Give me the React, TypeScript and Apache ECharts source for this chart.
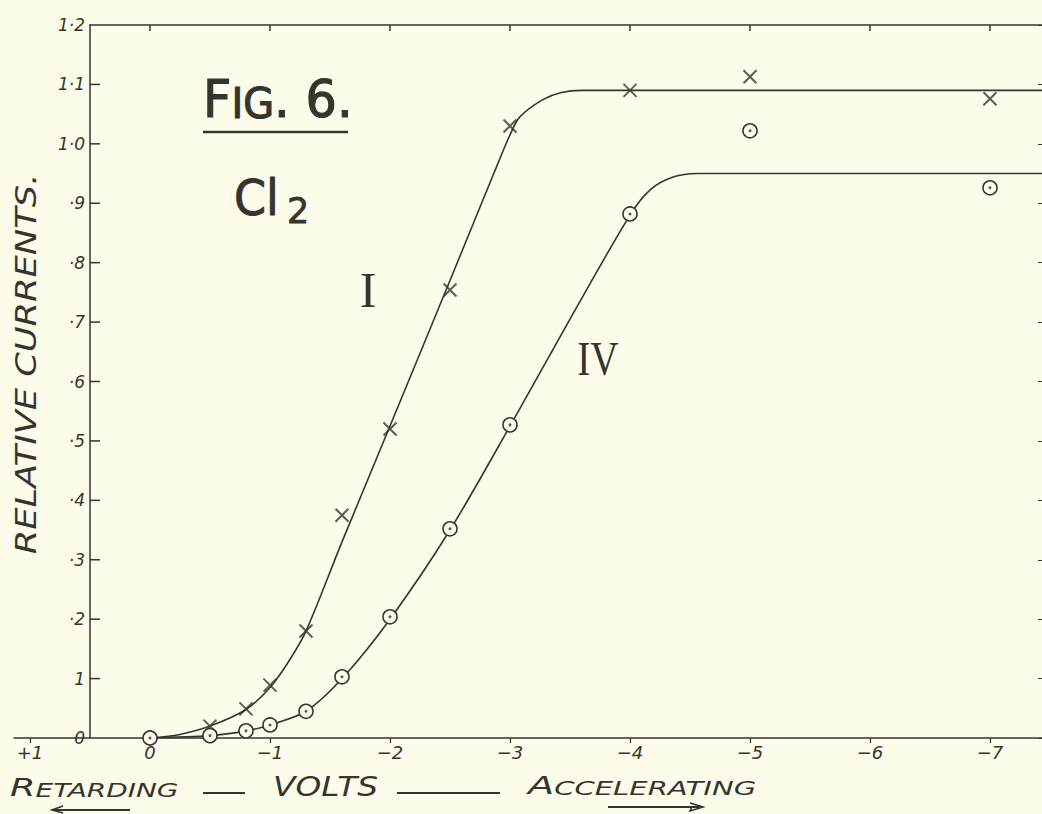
import React, { useEffect, useRef } from "react";
import * as echarts from "echarts";

// ---- data ----
const crossVolts = [-0.5, -0.8, -1.0, -1.3, -1.6, -2.0, -2.5, -3.0, -4.0, -5.0, -7.0];
const crossValues = [0.02, 0.049, 0.089, 0.18, 0.375, 0.52, 0.754, 1.03, 1.09, 1.113, 1.076];

const circleVolts = [0, -0.5, -0.8, -1.0, -1.3, -1.6, -2.0, -2.5, -3.0, -4.0, -5.0, -7.0];
const circleValues = [0, 0.004, 0.012, 0.022, 0.045, 0.103, 0.204, 0.352, 0.527, 0.882, 1.022, 0.926];

const curveIVolts = [0, -0.25, -0.5, -0.8, -1.0, -1.15, -1.3, -1.6, -2.0, -2.5, -2.875, -3.0, -3.08, -3.27, -3.42, -3.6, -7.5];
const curveIValues = [0, 0.006, 0.02, 0.048, 0.085, 0.127, 0.18, 0.33, 0.525, 0.77, 0.955, 1.015, 1.045, 1.074, 1.086, 1.09, 1.09];

const curveIVVolts = [0, -0.5, -0.8, -1.0, -1.3, -1.6, -2.0, -2.5, -3.0, -3.5, -4.0, -4.17, -4.36, -4.56, -7.5];
const curveIVValues = [0, 0.004, 0.012, 0.022, 0.045, 0.1, 0.2, 0.35, 0.525, 0.705, 0.88, 0.923, 0.944, 0.95, 0.95];

const xTickValues = [1, 0, -1, -2, -3, -4, -5, -6, -7];
const xTickLabels = ["+1", "0", "−1", "−2", "−3", "−4", "−5", "−6", "−7"];
const xTopTickValues = [0, -1, -2, -3, -4, -5, -6, -7];
const yTickValues = [0.1, 0.2, 0.3, 0.4, 0.5, 0.6, 0.7, 0.8, 0.9, 1.0, 1.1];
const yTickLabels = ["0", "1", "·2", "·3", "·4", "·5", "·6", "·7", "·8", "·9", "1·0", "1·1", "1·2"];

const INK = "#35352f";
const PAPER = "#fdfcea";
const SANS = "DejaVu Sans";
const SERIF = "Liberation Serif";

const X_LEFT = 0.5; // volts at the left frame line
const X_RIGHT = -7.4333; // volts at the right edge
const Y_TOP = 1.2;

export default function App() {
  const ref = useRef<HTMLDivElement>(null);

  useEffect(() => {
    if (!ref.current) return;
    const chart = echarts.init(ref.current, undefined, { renderer: "svg" });

    const xLabelOf = (v: number) => {
      const i = xTickValues.findIndex((t) => Math.abs(t - v) < 1e-6);
      return i >= 0 ? xTickLabels[i] : "";
    };

    const baseGraphic: any[] = [
      {
        type: "text",
        x: 203,
        y: 125,
        scaleX: 0.95,
        style: {
          text: "{a|F}{b|IG}{a|. 6.}",
          align: "left",
          verticalAlign: "bottom",
          fill: INK,
          rich: {
            a: { fontSize: 52, fontFamily: SANS, fill: INK, stroke: INK, lineWidth: 1.2, verticalAlign: "bottom" },
            b: { fontSize: 42, fontFamily: SANS, fill: INK, stroke: INK, lineWidth: 1.2, verticalAlign: "bottom" },
          },
        },
      },
      { type: "line", shape: { x1: 203, y1: 132, x2: 348, y2: 132 }, style: { stroke: INK, lineWidth: 2.5 } },
      {
        type: "text",
        x: 234,
        y: 197,
        scaleX: 0.92,
        style: { text: "Cl", fontSize: 50, fontFamily: SANS, fill: INK, stroke: INK, lineWidth: 1, align: "left", verticalAlign: "middle" },
      },
      {
        type: "text",
        x: 287,
        y: 211,
        style: { text: "2", fontSize: 35, fontFamily: SANS, fill: INK, stroke: INK, lineWidth: 0.8, align: "left", verticalAlign: "middle" },
      },
      {
        type: "text",
        x: 368,
        y: 290,
        style: { text: "I", fontSize: 50, fontFamily: SERIF, fill: INK, align: "center", verticalAlign: "middle" },
      },
      {
        type: "text",
        x: 598,
        y: 358,
        scaleX: 0.8,
        style: { text: "IV", fontSize: 49, fontFamily: SERIF, fill: INK, align: "center", verticalAlign: "middle" },
      },
      {
        type: "text",
        x: 26,
        y: 364,
        rotation: Math.PI / 2,
        scaleX: 1.26,
        style: {
          text: "RELATIVE CURRENTS.",
          fontSize: 28,
          fontStyle: "italic",
          fontFamily: SANS,
          fill: INK,
          align: "center",
          verticalAlign: "middle",
        },
      },
      {
        type: "text",
        x: 10,
        y: 800,
        scaleX: 1.47,
        style: {
          text: "{a|R}{b|ETARDING}",
          align: "left",
          verticalAlign: "bottom",
          fill: INK,
          rich: {
            a: { fontSize: 25, fontStyle: "italic", fontFamily: SANS, fill: INK, verticalAlign: "bottom" },
            b: { fontSize: 19, fontStyle: "italic", fontFamily: SANS, fill: INK, verticalAlign: "bottom" },
          },
        },
      },
      { type: "line", shape: { x1: 203, y1: 793, x2: 245, y2: 793 }, style: { stroke: INK, lineWidth: 2 } },
      {
        type: "text",
        x: 273,
        y: 800,
        scaleX: 1.26,
        style: {
          text: "VOLTS",
          fontSize: 26,
          fontStyle: "italic",
          fontFamily: SANS,
          fill: INK,
          align: "left",
          verticalAlign: "bottom",
        },
      },
      { type: "line", shape: { x1: 397, y1: 793, x2: 500, y2: 793 }, style: { stroke: INK, lineWidth: 2 } },
      {
        type: "text",
        x: 528,
        y: 798,
        scaleX: 1.53,
        style: {
          text: "{a|A}{b|CCELERATING}",
          align: "left",
          verticalAlign: "bottom",
          fill: INK,
          rich: {
            a: { fontSize: 25, fontStyle: "italic", fontFamily: SANS, fill: INK, verticalAlign: "bottom" },
            b: { fontSize: 19, fontStyle: "italic", fontFamily: SANS, fill: INK, verticalAlign: "bottom" },
          },
        },
      },
      { type: "line", shape: { x1: 52, y1: 810, x2: 130, y2: 810 }, style: { stroke: INK, lineWidth: 2 } },
      {
        type: "polyline",
        shape: { points: [[63, 806], [52, 810], [63, 813]] },
        style: { stroke: INK, lineWidth: 1.6, fill: "none" },
      },
      { type: "line", shape: { x1: 608, y1: 807, x2: 700, y2: 807 }, style: { stroke: INK, lineWidth: 2 } },
      {
        type: "polyline",
        shape: { points: [[690, 803], [703, 807], [690, 811], [692, 807]] },
        style: { stroke: INK, lineWidth: 1.6, fill: "none" },
      },
    ];

    const option: any = {
      animation: false,
      backgroundColor: PAPER,
      grid: [
        { left: 14, right: 0, top: 25, bottom: 76 },
        { left: 90, right: 0, top: 25, bottom: 76 },
      ],
      xAxis: [
        {
          gridIndex: 0,
          type: "value",
          inverse: true,
          min: X_RIGHT,
          max: 1.1333,
          splitLine: { show: false },
          axisLine: { show: true, onZero: false, lineStyle: { color: INK, width: 1.5 } },
          axisTick: { show: true, customValues: xTickValues, length: 5, lineStyle: { color: INK, width: 1.2 } },
          axisLabel: {
            customValues: xTickValues,
            formatter: (v: number) => xLabelOf(v),
            color: INK,
            fontFamily: SANS,
            fontStyle: "italic",
            fontSize: 18,
            margin: 5,
          },
        },
        {
          gridIndex: 1,
          type: "value",
          position: "top",
          inverse: true,
          min: X_RIGHT,
          max: X_LEFT,
          splitLine: { show: false },
          axisLine: { show: true, onZero: false, lineStyle: { color: INK, width: 1.5 } },
          axisTick: { show: false },
          axisLabel: { show: false },
        },
      ],
      yAxis: [
        { gridIndex: 0, type: "value", min: 0, max: Y_TOP, show: false },
        {
          gridIndex: 1,
          type: "value",
          position: "left",
          min: 0,
          max: Y_TOP,
          interval: 0.1,
          splitLine: { show: false },
          axisLine: { show: true, onZero: false, lineStyle: { color: INK, width: 1.5 } },
          axisTick: { show: false },
          axisLabel: {
            formatter: (v: number) => yTickLabels[Math.round(v * 10)] ?? "",
            color: INK,
            fontFamily: SANS,
            fontStyle: "italic",
            fontSize: 17,
            margin: 5,
          },
        },
        {
          gridIndex: 1,
          type: "value",
          position: "right",
          min: 0,
          max: Y_TOP,
          interval: 0.1,
          splitLine: { show: false },
          axisLine: { show: false, onZero: false },
          axisTick: { show: true, inside: true, length: 4, lineStyle: { color: INK, width: 1 } },
          axisLabel: { show: false },
        },
      ],
      series: [
        {
          name: "I",
          type: "line",
          xAxisIndex: 0,
          yAxisIndex: 0,
          data: curveIVolts.map((v, i) => [v, curveIValues[i]]),
          smooth: 0.3,
          symbol: "none",
          lineStyle: { color: INK, width: 1.6 },
          z: 2,
        },
        {
          name: "IV",
          type: "line",
          xAxisIndex: 0,
          yAxisIndex: 0,
          data: curveIVVolts.map((v, i) => [v, curveIVValues[i]]),
          smooth: 0.3,
          symbol: "none",
          lineStyle: { color: INK, width: 1.6 },
          z: 2,
        },
        {
          name: "I points",
          type: "scatter",
          xAxisIndex: 0,
          yAxisIndex: 0,
          data: crossVolts.map((v, i) => [v, crossValues[i]]),
          symbol: "path://M0,0L10,10M10,0L0,10",
          symbolSize: 13,
          itemStyle: { color: "rgba(0,0,0,0)", borderColor: INK, borderWidth: 2 },
          z: 4,
        },
        {
          name: "IV points",
          type: "scatter",
          xAxisIndex: 0,
          yAxisIndex: 0,
          data: circleVolts.map((v, i) => [v, circleValues[i]]),
          symbol: "circle",
          symbolSize: 14,
          itemStyle: { color: PAPER, borderColor: INK, borderWidth: 1.6, opacity: 1 },
          z: 4,
        },
        {
          name: "IV dots",
          type: "scatter",
          xAxisIndex: 0,
          yAxisIndex: 0,
          data: circleVolts.map((v, i) => [v, circleValues[i]]),
          symbol: "circle",
          symbolSize: 3,
          itemStyle: { color: INK },
          z: 5,
        },
      ],
      graphic: baseGraphic,
    };

    chart.setOption(option);

    // inner ticks of the left and top frame lines, placed through the axes' own scales
    const finder = { xAxisIndex: 1, yAxisIndex: 1 };
    const tickLines: any[] = [];
    yTickValues.forEach((v) => {
      const p = chart.convertToPixel(finder as any, [X_LEFT, v]) as number[];
      if (p && isFinite(p[0]) && isFinite(p[1])) {
        tickLines.push({
          type: "line",
          z: 50,
          shape: { x1: p[0], y1: p[1], x2: p[0] + 10, y2: p[1] },
          style: { stroke: INK, lineWidth: 1.5 },
        });
      }
    });
    xTopTickValues.forEach((v) => {
      const p = chart.convertToPixel(finder as any, [v, Y_TOP]) as number[];
      if (p && isFinite(p[0]) && isFinite(p[1])) {
        tickLines.push({
          type: "line",
          z: 50,
          shape: { x1: p[0], y1: p[1], x2: p[0], y2: p[1] + 6 },
          style: { stroke: INK, lineWidth: 1.5 },
        });
      }
    });
    chart.setOption({ graphic: [...baseGraphic, ...tickLines] });

    return () => chart.dispose();
  }, []);

  return (
    <div
      ref={ref}
      style={{ position: "fixed", left: 0, top: 0, width: 1042, height: 814, background: PAPER }}
    />
  );
}
